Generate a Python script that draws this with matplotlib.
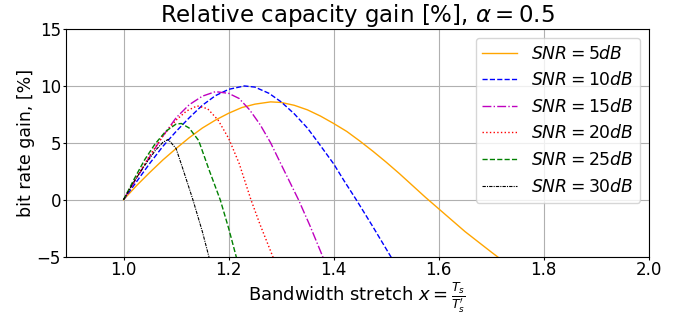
import matplotlib.pyplot as plt

# values
x_5 = [1.0, 1.025, 1.05, 1.075, 1.1, 1.125, 1.15, 1.175, 1.2, 1.225, 1.25, 1.28, 1.3, 1.325,
       1.35, 1.375, 1.4, 1.425, 1.45, 1.475, 1.5, 1.525, 1.55, 1.575, 1.6, 1.625, 1.65, 1.675,
       1.7, 1.72]
y_5 = [0.0, 1.25, 2.4, 3.5, 4.5, 5.45, 6.3, 7.0, 7.6, 8.1, 8.4, 8.6, 8.55, 8.3,
       7.9, 7.35, 6.7, 6.0, 5.15, 4.25, 3.3, 2.3, 1.25, 0.2, -0.8, -1.8, -2.8, -3.7,
       -4.6, -5.3]

x_10 = [1.0, 1.025, 1.05, 1.075, 1.1, 1.125, 1.15, 1.175, 1.2, 1.23, 1.25, 1.277, 1.3,
        1.325, 1.35, 1.371, 1.4, 1.42, 1.443, 1.475, 1.51]
y_10 = [0.0, 1.6, 3.2, 4.7, 6.0, 7.2, 8.3, 9.15, 9.7, 10.0, 9.9, 9.35, 8.6,
        7.55, 6.3, 5.0, 3.15, 1.65, 0.0, -2.4, -5.1]

x_15 = [1.0, 1.025, 1.05, 1.075, 1.1, 1.125, 1.15, 1.175, 1.2, 1.22, 1.24, 1.26, 1.28,
        1.3, 1.333, 1.355, 1.38]
y_15 = [0.0, 1.9, 3.8, 5.6, 7.2, 8.35, 9.1, 9.5, 9.35, 8.9, 7.9, 6.6, 5.0,
        3.1, 0.0, -2.3, -5.1]

x_20 = [1.0, 1.025, 1.05, 1.075, 1.1, 1.12, 1.14, 1.16, 1.18, 1.2, 1.22, 1.2425, 1.26, 1.285]
y_20 = [0.0, 2.0, 3.9, 5.6, 7.0, 7.8, 8.25, 8.0, 7.0, 5.4, 3.2, 0.0, -2.2, -5.1]

x_25 = [1.0, 1.02, 1.04, 1.06, 1.08, 1.1, 1.11, 1.125, 1.143, 1.163, 1.184, 1.2, 1.215]
y_25 = [0.0, 1.8, 3.5, 4.9, 6.0, 6.65, 6.7, 6.3, 5.2, 2.6, 0.0, -2.5, -5.1]

x_30 = [1.0, 1.02, 1.04, 1.06, 1.075, 1.085, 1.1, 1.113, 1.132, 1.15, 1.163]
y_30 = [0.0, 1.6, 3.0, 4.3, 5.05, 5.3, 4.5, 2.7, 0.0, -2.8, -5.1]

labels = [r'$SNR=5dB$', r'$SNR=10dB$', r'$SNR=15dB$',
          r'$SNR=20dB$', r'$SNR=25dB$', r'$SNR=30dB$']

fig, ax = plt.subplots(figsize=(6.78, 3.16), dpi=100)
fig.subplots_adjust(left=0.097, right=0.957, top=0.908, bottom=0.188)

ax.plot(x_5, y_5, color='orange', linestyle='-', linewidth=1, label=labels[0])
ax.plot(x_10, y_10, color='b', linestyle='--', linewidth=1, label=labels[1])
ax.plot(x_15, y_15, color='m', linestyle='-.', linewidth=1, label=labels[2])
ax.plot(x_20, y_20, color='r', linestyle=':', linewidth=1, label=labels[3])
ax.plot(x_25, y_25, color='g', linestyle='--', linewidth=1, label=labels[4])
ax.plot(x_30, y_30, color='k', linestyle=(0, (3, 1, 1, 1)), linewidth=0.8, label=labels[5])

ax.set_xlim(0.89, 2.0)
ax.set_ylim(-5, 15)
ax.set_xticks([1.0, 1.2, 1.4, 1.6, 1.8, 2.0])
ax.set_yticks([-5, 0, 5, 10, 15])
ax.tick_params(labelsize=12, length=2, pad=1.5)
ax.grid(color='#b0b0b0', linewidth=0.8)
ax.set_title(r'Relative capacity gain [%], $\alpha=0.5$', fontsize=16.5, pad=4)
ax.set_xlabel(r"Bandwidth stretch $x=\frac{T_s}{T_s'}$", fontsize=13, labelpad=1)
ax.set_ylabel('bit rate gain, [%]', fontsize=12.5, labelpad=1)
ax.legend(loc='upper right', fontsize=12.4)

fig.savefig('out.png', dpi=100)
